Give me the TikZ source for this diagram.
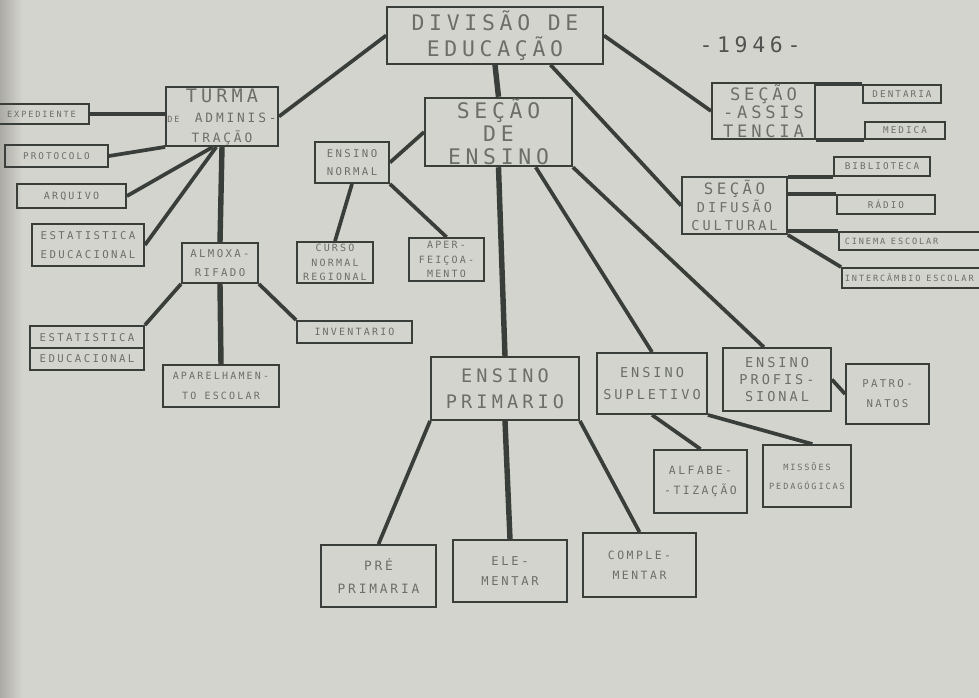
\documentclass[tikz,border=0pt]{standalone}
\usepackage{fontspec}
\newfontfamily\letra[LetterSpace=22]{DejaVu Sans Mono}
\usetikzlibrary{calc}
\definecolor{papel}{RGB}{212,212,206}
\definecolor{sombra}{RGB}{160,160,153}
\definecolor{linha}{RGB}{58,62,58}
\definecolor{tinta}{RGB}{108,110,106}

\tikzset{
  caixa/.style={draw=linha, line width=1.3pt, inner sep=1pt, align=center, text=tinta},
  tam/.style 2 args={minimum width=#1*0.7pt, minimum height=#2*0.7pt},
  fonte/.style 2 args={font=\letra\fontsize{#1}{#2}\selectfont},
  liga/.style={draw=linha, line width=2.6pt},
  tronco/.style={draw=linha, line width=3.8pt},
}

\begin{document}
\begin{tikzpicture}[x=0.7pt,y=-0.7pt]
% papel
\useasboundingbox (0,0) rectangle (979,697);
\fill[papel] (-6,-6) rectangle (986,704);
\shade[left color=sombra,right color=papel] (-6,-6) rectangle (22,704);

% topo
\node[caixa,tam={216}{57},fonte={15}{18}] (divisao) at (495,35.5) {DIVISÃO DE\\EDUCAÇÃO};
\node[text=tinta!75!black,fonte={15}{15}] (ano) at (750,45) {-1946-};

% turma de administracao
\node[caixa,tam={112}{59},fonte={13}{14}] (turma) at (222,116.5)
  {TURMA\\{\fontsize{6}{6}\selectfont DE} {\fontsize{9}{12}\selectfont ADMINIS-}\\{\fontsize{9}{12}\selectfont TRAÇÃO}};
\node[caixa,tam={95}{20},fonte={6}{7}] (expediente) at (41.5,114) {EXPEDIENTE};
\node[caixa,tam={103}{22},fonte={6.5}{7}] (protocolo) at (56.5,156) {PROTOCOLO};
\node[caixa,tam={109}{24},fonte={7}{7}] (arquivo) at (71.5,196) {ARQUIVO};
\node[caixa,tam={112}{42},fonte={7.5}{13}] (estat1) at (88,245) {ESTATISTICA\\EDUCACIONAL};
\node[caixa,tam={76}{40},fonte={7.5}{13}] (almox) at (220,263) {ALMOXA-\\RIFADO};
\node[caixa,tam={114}{44},fonte={7.5}{15}] (estat2) at (87,348) {ESTATISTICA\\EDUCACIONAL};
\node[caixa,tam={116}{42},fonte={7}{14}] (aparelh) at (221,386) {APARELHAMEN-\\TO ESCOLAR};
\node[caixa,tam={115}{22},fonte={7}{7}] (inventario) at (354.5,332) {INVENTARIO};

% secao de ensino
\node[caixa,tam={147}{60},fonte={15}{16}] (ensino) at (498.5,132) {SEÇÃO\\DE\\ENSINO};
\node[caixa,tam={74}{41},fonte={7.5}{13}] (normal) at (352,162.5) {ENSINO\\NORMAL};
\node[caixa,tam={76}{41},fonte={7}{10}] (curso) at (335,262.5) {CURSO\\NORMAL\\REGIONAL};
\node[caixa,tam={75}{43},fonte={7}{10}] (aperf) at (446.5,259.5) {APER-\\FEIÇOA-\\MENTO};
\node[caixa,tam={148}{63},fonte={13}{18}] (primario) at (505,388.5) {ENSINO\\PRIMARIO};
\node[caixa,tam={110}{61},fonte={9.5}{15}] (supletivo) at (652,383.5) {ENSINO\\SUPLETIVO};
\node[caixa,tam={108}{63},fonte={9.5}{12}] (profiss) at (777,379.5) {ENSINO\\PROFIS-\\SIONAL};
\node[caixa,tam={83}{60},fonte={7.5}{14}] (patronatos) at (887.5,394) {PATRO-\\NATOS};
\node[caixa,tam={93}{63},fonte={8}{14}] (alfabet) at (700.5,481.5) {ALFABE-\\-TIZAÇÃO};
\node[caixa,tam={88}{62},fonte={6}{13}] (missoes) at (807,476) {MISSÕES\\PEDAGÓGICAS};
\node[caixa,tam={115}{62},fonte={9}{16}] (preprim) at (378.5,576) {PRÉ\\PRIMARIA};
\node[caixa,tam={114}{62},fonte={8.5}{14}] (elementar) at (510,571) {ELE-\\MENTAR};
\node[caixa,tam={113}{64},fonte={8}{14}] (complem) at (639.5,565) {COMPLE-\\MENTAR};

% assistencia e difusao
\node[caixa,tam={103}{56},fonte={12}{13}] (assist) at (763.5,111) {SEÇÃO\\-ASSIS\\TENCIA};
\node[caixa,tam={78}{18},fonte={6.5}{7}] (dentaria) at (902,94) {DENTARIA};
\node[caixa,tam={80}{17},fonte={6.5}{7}] (medica) at (905,130.5) {MEDICA};
\node[caixa,tam={105}{57},fonte={9.5}{12.5}] (difusao) at (734.5,205.5) {{\fontsize{11}{12}\selectfont SEÇÃO}\\DIFUSÃO\\CULTURAL};
\node[caixa,tam={96}{19},fonte={6.5}{7}] (biblio) at (882,166.5) {BIBLIOTECA};
\node[caixa,tam={98}{19},fonte={6.5}{7}] (radio) at (886,204.5) {RÁDIO};
\node[caixa,tam={146}{18},fonte={6}{7},inner xsep=4pt,text width=94pt,align=left] (cinema) at (912,241) {CINEMA\hspace{4pt}ESCOLAR};
\node[caixa,tam={143}{20},fonte={6}{7},inner xsep=2pt,text width=96pt,align=left] (intercambio) at (913.5,278) {INTERCÂMBIO\hspace{4pt}ESCOLAR};

% ligacoes da divisao
\draw[liga] (divisao.west) -- (turma.east);
\draw[tronco] (divisao.south) -- (ensino.north);
\draw[liga] ($(divisao.south west)!0.755!(divisao.south east)$) -- (difusao.west);
\draw[liga] (divisao.east) -- (assist.west);

% ligacoes da turma
\draw[liga] (expediente.east) -- (expediente.east -| turma.west);
\draw[liga] (protocolo.east) -- (turma.south west);
\draw[liga] (arquivo.east) -- ($(turma.south west)!0.42!(turma.south east)$);
\draw[liga] (estat1.east) -- ($(turma.south west)!0.45!(turma.south east)$);
\draw[tronco] (turma.south) -- (almox.north);
\draw[liga] (almox.south west) -- (estat2.north east);
\draw[tronco] (almox.south) -- (aparelh.north);
\draw[liga] (almox.south east) -- (inventario.north west);
\draw[line width=1.3pt,draw=linha] (estat2.west) -- (estat2.east);

% ligacoes do ensino
\draw[liga] (normal.east) -- (ensino.west);
\draw[liga] (normal.south) -- (curso.north);
\draw[liga] (normal.south east) -- (aperf.north);
\draw[tronco] (ensino.south) -- (primario.north);
\draw[liga] ($(ensino.south west)!0.75!(ensino.south east)$) -- (supletivo.north);
\draw[liga] (ensino.south east) -- ($(profiss.north west)!0.38!(profiss.north east)$);
\draw[liga] (profiss.east) -- (patronatos.west);
\draw[liga] (supletivo.south) -- (alfabet.north);
\draw[liga] (supletivo.south east) -- ($(missoes.north west)!0.56!(missoes.north east)$);
\draw[liga] (primario.south west) -- (preprim.north);
\draw[tronco] (primario.south) -- (elementar.north);
\draw[liga] (primario.south east) -- (complem.north);

% ligacoes das secoes
\draw[liga] (dentaria.north west) -- (dentaria.north west -| assist.east);
\draw[liga] (medica.south west) -- (medica.south west -| assist.east);
\draw[liga] (biblio.south west) -- (biblio.south west -| difusao.east);
\draw[liga] (radio.north west) -- (radio.north west -| difusao.east);
\draw[liga] (cinema.north west) -- (cinema.north west -| difusao.east);
\draw[liga] (difusao.south east) -- (intercambio.north west);
\end{tikzpicture}
\end{document}
